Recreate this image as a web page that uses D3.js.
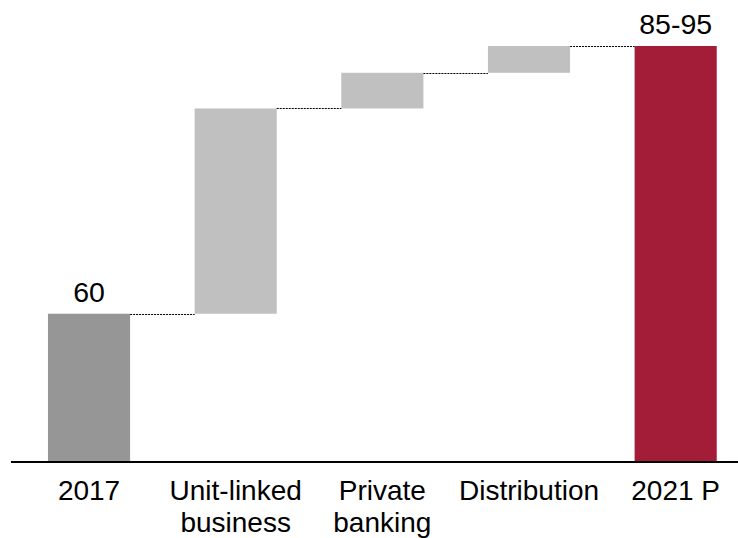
<!DOCTYPE html>
<html>
<head>
<meta charset="utf-8">
<script src="https://cdn.jsdelivr.net/npm/d3@7"></script>
<style>
  html, body { margin: 0; padding: 0; background: #fff; }
  svg { display: block; }
  text { font-family: "Liberation Sans", Arial, sans-serif; fill: #000; }
</style>
</head>
<body>
<svg id="chart" width="738" height="538"></svg>
<script>
// ---- data ----
const categories = ["2017", "Unit-linked business", "Private banking", "Distribution", "2021 P"];
const labelLines = [["2017"], ["Unit-linked", "business"], ["Private", "banking"], ["Distribution"], ["2021 P"]];
const startValue = 60;
const increments = [23, 4, 3];          // Unit-linked, Private banking, Distribution
const endValue = 90;                    // drawn height of 2021 P (range 85-95)
const valueLabels = ["60", null, null, null, "85-95"];
const kinds = ["start", "step", "step", "step", "end"];
const colors = { start: "#969696", step: "#c0c0c0", end: "#a31d38" };

// build waterfall rows
const rows = [];
let cum = startValue;
rows.push({ cat: categories[0], y0: 0, y1: startValue, kind: kinds[0], label: valueLabels[0] });
increments.forEach((d, i) => {
  rows.push({ cat: categories[i + 1], y0: cum, y1: cum + d, kind: kinds[i + 1], label: valueLabels[i + 1] });
  cum += d;
});
rows.push({ cat: categories[4], y0: 0, y1: endValue, kind: kinds[4], label: valueLabels[4] });

// ---- layout ----
const svg = d3.select("#chart");
const baseY = 461;
const x = d3.scaleBand().domain(categories).range([15.7, 749]).paddingInner(0.44).paddingOuter(0.22);
const y = d3.scaleLinear().domain([43.5, 90]).range([baseY, 46]);
const yPos = v => v <= 0 ? baseY : y(v);

// bars
svg.append("g").selectAll("rect").data(rows).join("rect")
  .attr("x", d => x(d.cat))
  .attr("width", x.bandwidth())
  .attr("y", d => yPos(d.y1))
  .attr("height", d => yPos(d.y0) - yPos(d.y1))
  .attr("fill", d => colors[d.kind]);

// connectors
const conn = [];
for (let i = 0; i < rows.length - 1; i++) {
  conn.push({ x1: x(rows[i].cat) + x.bandwidth(), x2: x(rows[i + 1].cat), v: rows[i].y1 });
}
svg.append("g").selectAll("line").data(conn).join("line")
  .attr("x1", d => d.x1).attr("x2", d => d.x2)
  .attr("y1", d => Math.round(y(d.v)) + 0.5).attr("y2", d => Math.round(y(d.v)) + 0.5)
  .attr("stroke", "#000").attr("stroke-width", 1).attr("stroke-dasharray", "2,1");

// axis
const axis = d3.axisBottom(x).tickSize(0).tickFormat("");
const ag = svg.append("g").attr("transform", `translate(0,${baseY + 1})`).call(axis);
ag.select(".domain").attr("d", "M11,0H738").attr("stroke", "#000").attr("stroke-width", 2);

// category labels
const catG = svg.append("g");
categories.forEach((c, i) => {
  const cx = x(c) + x.bandwidth() / 2;
  labelLines[i].forEach((ln, j) => {
    catG.append("text")
      .attr("x", cx)
      .attr("y", 500 + j * 32)
      .attr("text-anchor", "middle")
      .attr("font-size", 28)
      .text(ln);
  });
});

// value labels
svg.append("g").selectAll("text").data(rows.filter(d => d.label)).join("text")
  .attr("x", d => x(d.cat) + x.bandwidth() / 2)
  .attr("y", d => y(d.y1) - 12)
  .attr("text-anchor", "middle")
  .attr("font-size", 28.5)
  .text(d => d.label);
</script>
</body>
</html>
